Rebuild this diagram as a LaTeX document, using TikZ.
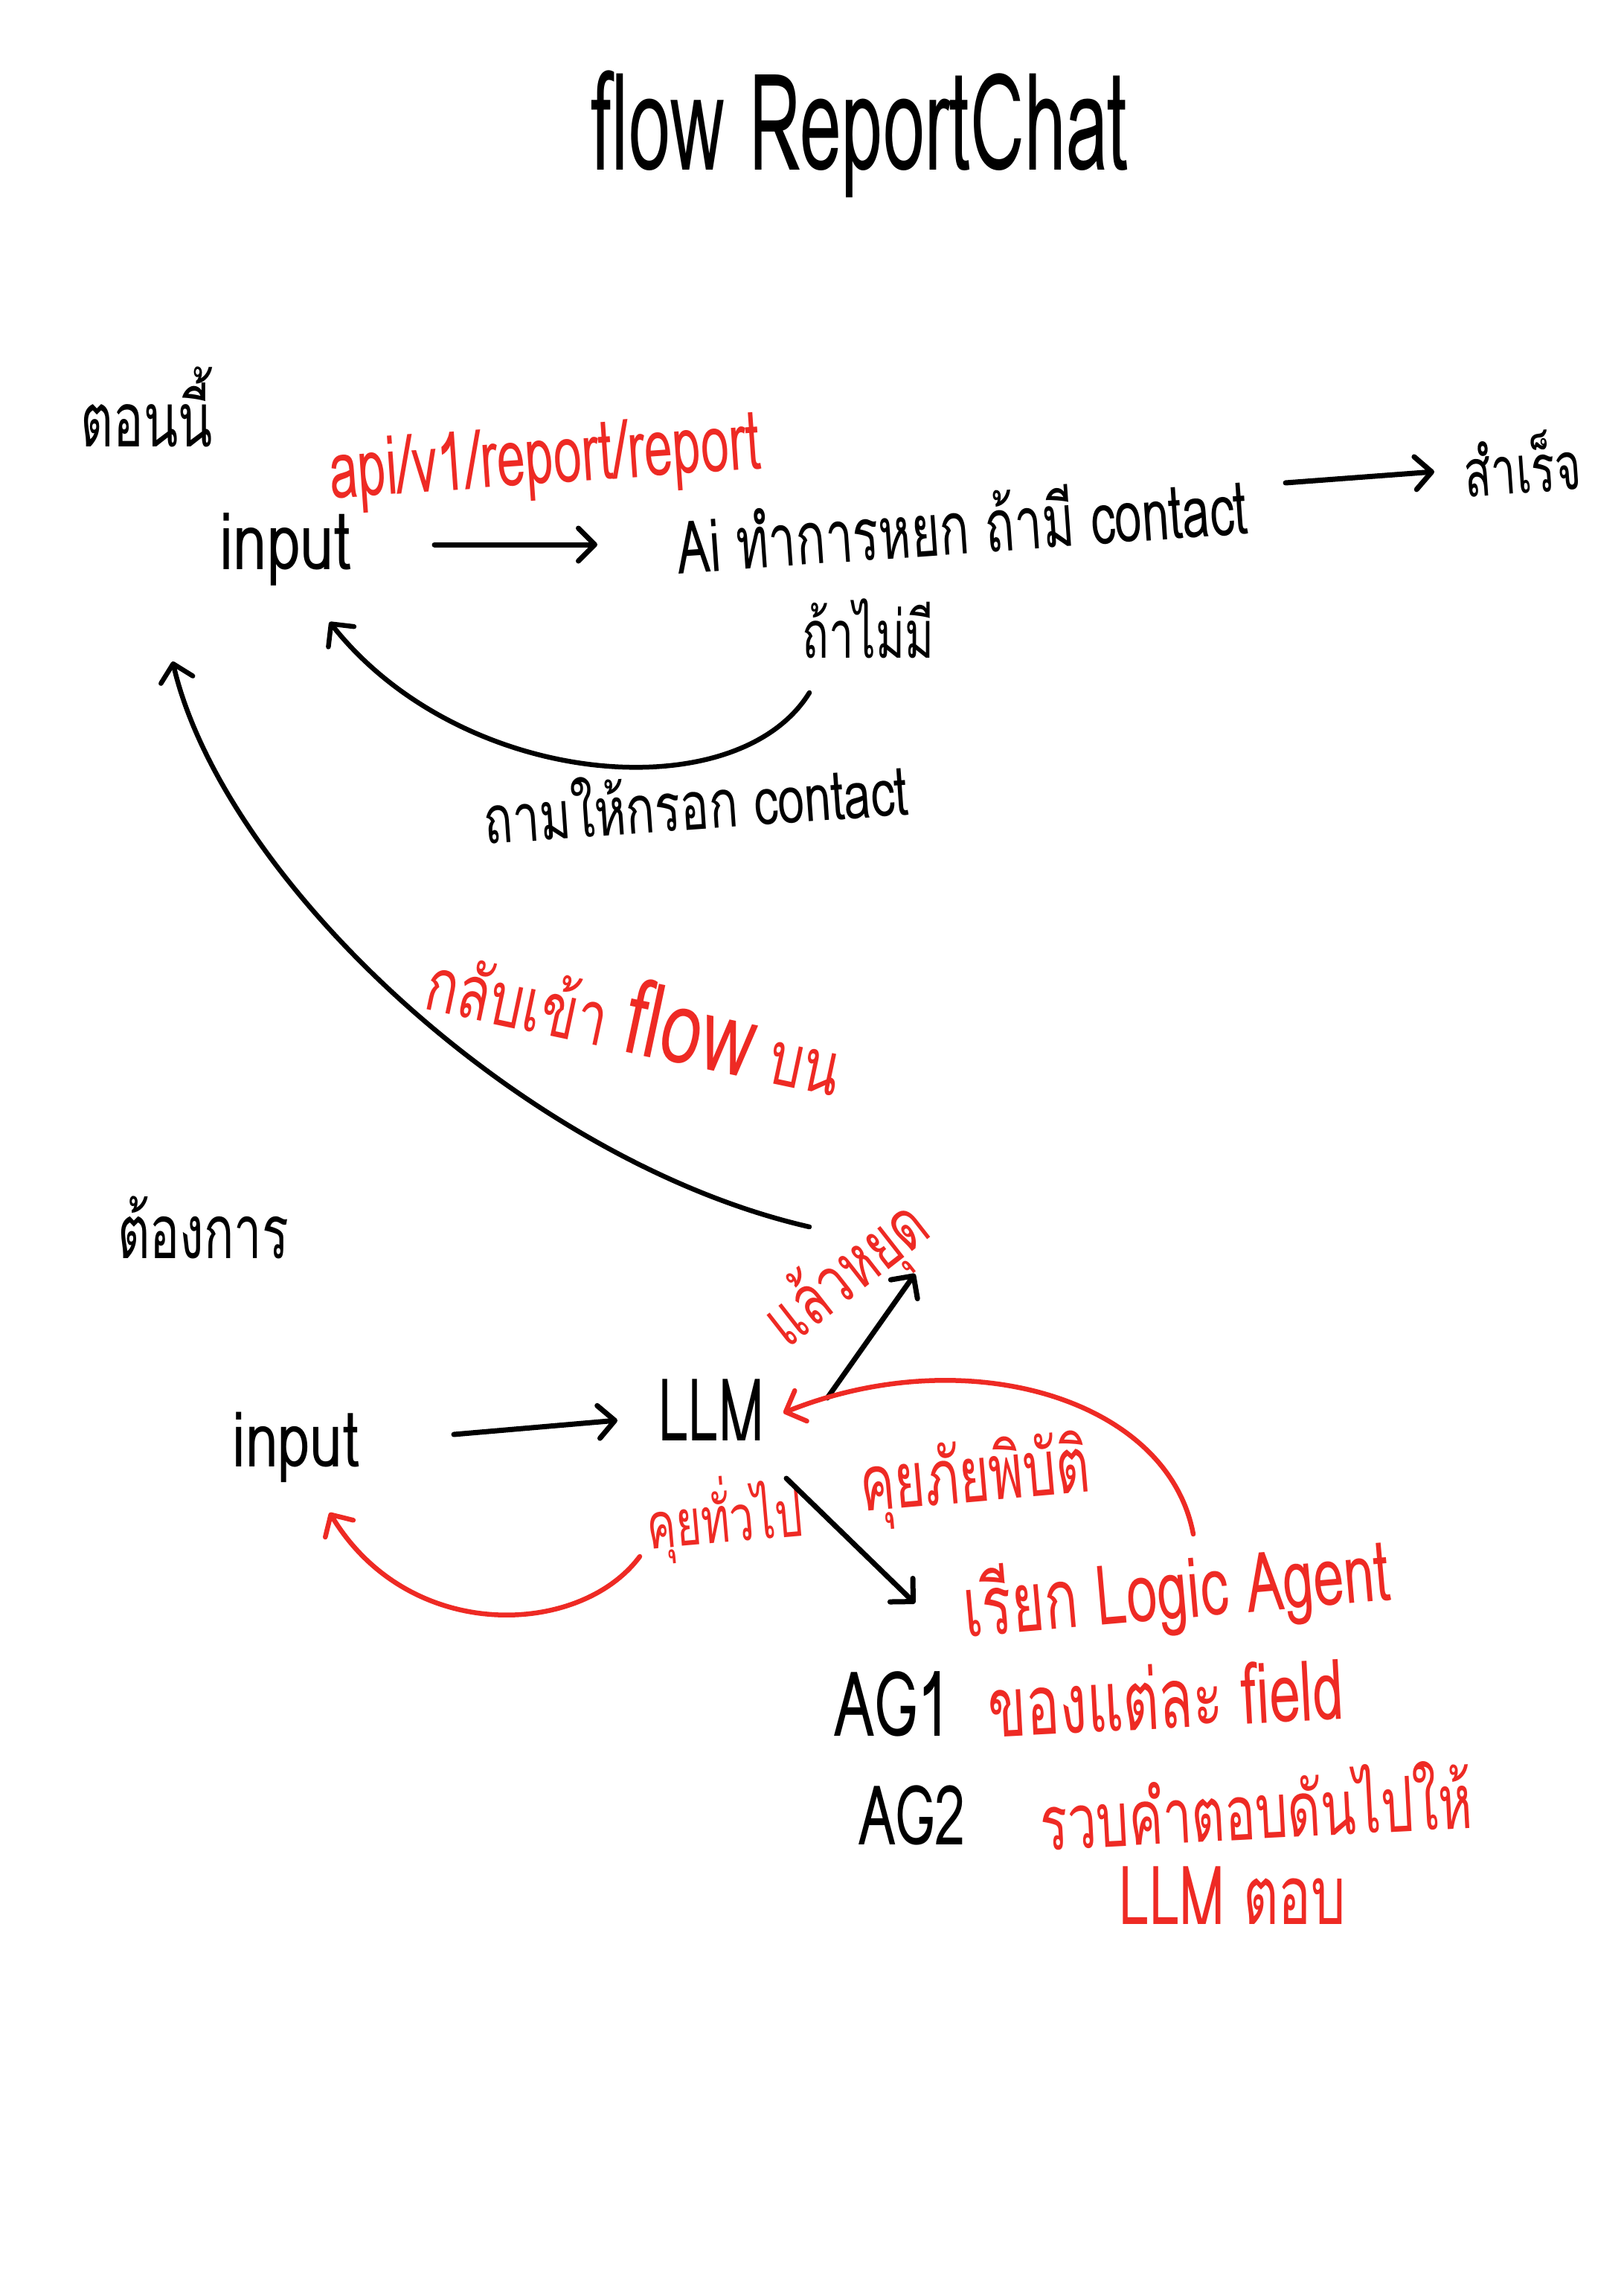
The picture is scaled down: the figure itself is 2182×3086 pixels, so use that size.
\documentclass[tikz,border=0pt]{standalone}
\usepackage{fontspec}
\usepackage{graphicx}
\setmainfont[Script=Thai]{Loma}
\usetikzlibrary{arrows.meta,calc}
\definecolor{pen}{RGB}{238,42,36}
\newcommand{\fitw}[2]{\resizebox{#1}{!}{#2}}
\begin{document}
\begin{tikzpicture}[x=1pt,y=-1pt,
  txt/.style={inner sep=0pt, font=\fontsize{80}{80}\selectfont},
  redtxt/.style={txt, text=pen},
  ln/.style={line width=7pt, line cap=round, line join=round},
  arr/.style={ln, -{Straight Barb[length=22pt,width=44pt,round]}},
  curvearr/.style={line width=6.5pt, line cap=round, -{Straight Barb[length=22pt,width=44pt,round]}},
  redarr/.style={curvearr, draw=pen}
]
\fill[white] (0,0) rectangle (2182,3086);
\useasboundingbox (0,0) rectangle (2182,3086);

% texts
\node[txt, yscale=1.8] (title) at (1156,180) {\fitw{722pt}{flow ReportChat}};
\node[txt, yscale=1.5] (now) at (197,547) {\fitw{177pt}{ตอนนี้}};
\node[redtxt, rotate=4, yscale=1.6] (api) at (733,622) {\fitw{580pt}{api/v1/report/report}};
\node[txt, yscale=1.3] (in1) at (384,738) {\fitw{177pt}{input}};
\node[txt, rotate=4, yscale=1.5] (ai) at (1293,703) {\fitw{768pt}{Ai ทำการหยก ถ้ามี contact}};
\node[txt, rotate=4, yscale=1.5] (ok) at (2046,622) {\fitw{157pt}{สำเร็จ}};
\node[txt, yscale=1.5] (nocontact) at (1167,845) {\fitw{177pt}{ถ้าไม่มี}};
\node[txt, rotate=4, yscale=1.4] (ask) at (935,1075) {\fitw{571pt}{ถามให้กรอก contact}};
\node[redtxt, rotate=-12, yscale=1.4] (back) at (855,1365) {\fitw{567pt}{กลับเข้า {\fontsize{110}{110}\selectfont flow} บน}};
\node[txt, yscale=1.5] (want) at (273,1650) {\fitw{230pt}{ต้องการ}};
\node[txt, yscale=1.3] (in2) at (398,1945) {\fitw{171pt}{input}};
\node[txt, yscale=1.6] (llm) at (956,1895) {\fitw{142pt}{LLM}};
\node[redtxt, rotate=38, yscale=1.4] (stop) at (1140,1715) {\fitw{250pt}{แล้วหยุด}};
\node[redtxt, rotate=5, yscale=1.5] (general) at (974,2040) {\fitw{209pt}{คุยทั่วไป}};
\node[redtxt, rotate=5, yscale=1.5] (disaster) at (1311,1990) {\fitw{309pt}{คุยภัยพิบัติ}};
\node[redtxt, rotate=5, yscale=1.5] (logic) at (1582,2140) {\fitw{575pt}{เรียก Logic Agent}};
\node[txt, yscale=1.5] (ag1) at (1200,2290) {\fitw{157pt}{AG1}};
\node[redtxt, rotate=3, yscale=1.5] (ag1t) at (1567,2280) {\fitw{478pt}{ของแต่ละ field}};
\node[txt, yscale=1.5] (ag2) at (1226,2440) {\fitw{144pt}{AG2}};
\node[redtxt, rotate=3, yscale=1.5] (ag2t) at (1688,2426) {\fitw{580pt}{รวบคำตอบดันไปให้}};
\node[redtxt, yscale=1.5] (llmans) at (1657,2548) {\fitw{305pt}{LLM ตอบ}};

% connectors (top)
\draw[arr] ($(in1.center)+(200,-6)$) -- ($(ai.center)+(-490,29)$);
\draw[arr] ($(ai.center)+(435,-54)$) -- ($(ok.center)+(-118,12)$);
\draw[curvearr] ($(nocontact.center)+(-79,86)$) .. controls (990,1090) and (620,1060) .. ($(in1.center)+(59,98)$);
\draw[curvearr] ($(stop.center)+(-52,-66)$) .. controls (700,1560) and (300,1180) .. ($(in1.center)+(-152,151)$);

% connectors (bottom)
\draw[arr] ($(in2.center)+(212,-17)$) -- ($(llm.center)+(-126,14)$);
\draw[arr] ($(llm.center)+(156,-16)$) -- ($(stop.center)+(90,-3)$);
\draw[arr] ($(llm.center)+(101,92)$) -- ($(logic.center)+(-352,15)$);
\draw[redarr] ($(logic.center)+(22,-78)$) .. controls (1570,1880) and (1300,1800) .. ($(llm.center)+(97,4)$);
\draw[redarr] ($(general.center)+(-114,52)$) .. controls (780,2200) and (550,2210) .. ($(in2.center)+(45,88)$);
\end{tikzpicture}
\end{document}
